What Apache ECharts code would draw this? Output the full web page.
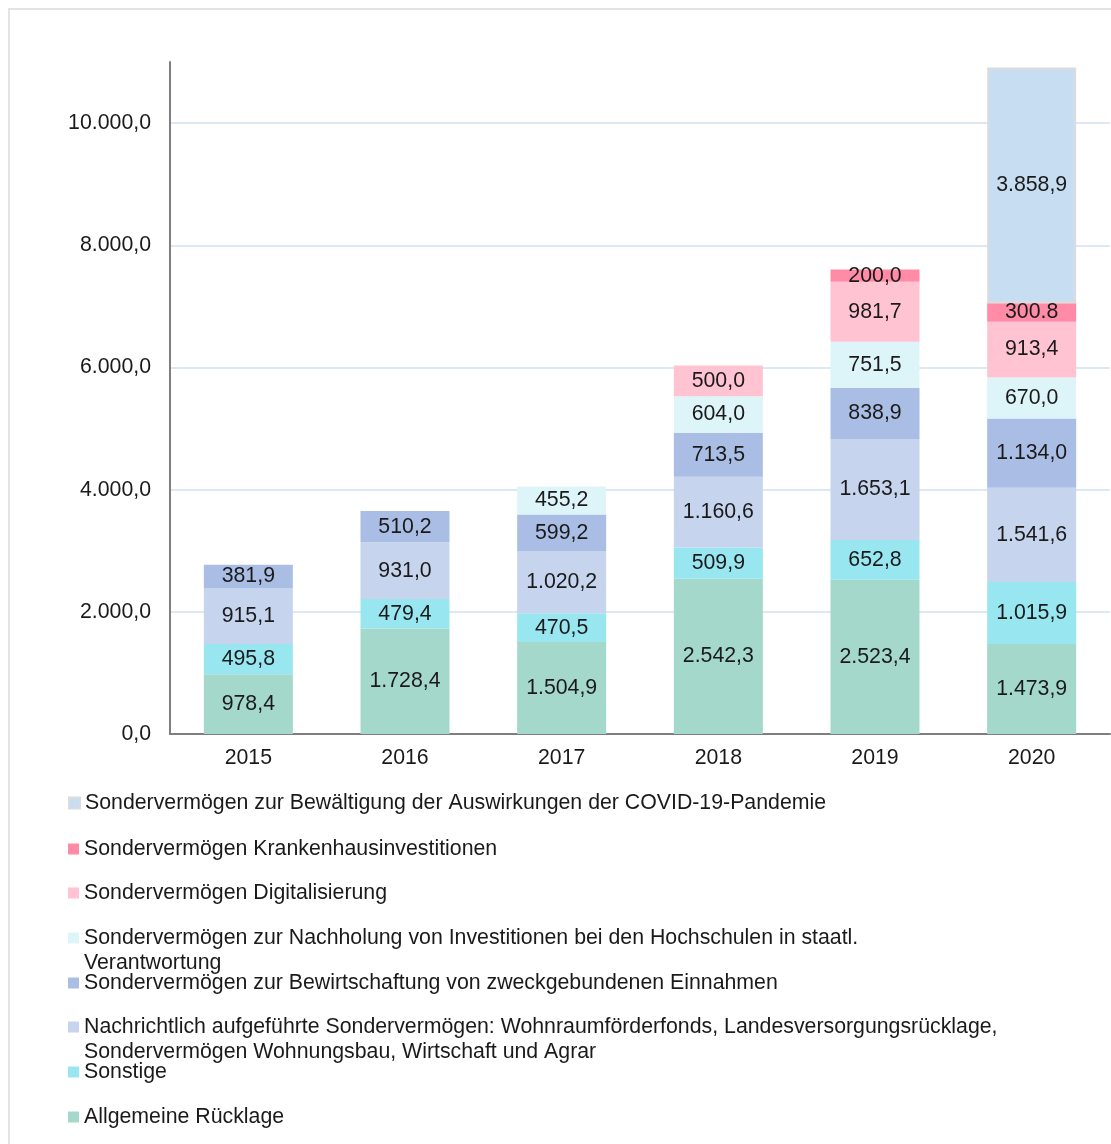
<!DOCTYPE html>
<html>
<head>
<meta charset="utf-8">
<script src="https://cdn.jsdelivr.net/npm/echarts@6/dist/echarts.min.js"></script>
<style>
  html, body { margin: 0; padding: 0; background: #fff; }
  #chart { width: 1111px; height: 1144px; }
</style>
</head>
<body>
<div id="chart"></div>
<script>
// Daten (Mio. Euro)
var years = ['2015', '2016', '2017', '2018', '2019', '2020'];
var yTicks = [0, 2000, 4000, 6000, 8000, 10000];

var allgemeineRuecklage = [978.4, 1728.4, 1504.9, 2542.3, 2523.4, 1473.9];
var sonstige = [495.8, 479.4, 470.5, 509.9, 652.8, 1015.9];
var nachrichtlich = [915.1, 931.0, 1020.2, 1160.6, 1653.1, 1541.6];
var bewirtschaftung = [381.9, 510.2, 599.2, 713.5, 838.9, 1134.0];
var nachholung = [null, null, 455.2, 604.0, 751.5, 670.0];
var digitalisierung = [null, null, null, 500.0, 981.7, 913.4];
var krankenhaus = [null, null, null, null, 200.0, 300.8];
var covid = [null, null, null, null, null, 3858.9];

var names = {
    allg: 'Allgemeine Rücklage',
    sonst: 'Sonstige',
    nachr: 'Nachrichtlich aufgeführte Sondervermögen: Wohnraumförderfonds, Landesversorgungsrücklage,',
    bew: 'Sondervermögen zur Bewirtschaftung von zweckgebundenen Einnahmen',
    nachh: 'Sondervermögen zur Nachholung von Investitionen bei den Hochschulen in staatl.',
    digi: 'Sondervermögen Digitalisierung',
    kh: 'Sondervermögen Krankenhausinvestitionen',
    covid: 'Sondervermögen zur Bewältigung der Auswirkungen der COVID-19-Pandemie'
};

var fontFamily = '"Liberation Sans", Arial, sans-serif';
var fs = 21.3;

// deutsche Zahlendarstellung mit einer Nachkommastelle
function fmt(v) {
    var s = Number(v).toFixed(1);
    var parts = s.split('.');
    var intPart = parts[0].replace(/\B(?=(\d{3})+(?!\d))/g, '.');
    return intPart + ',' + parts[1];
}

function labelFmt(p) {
    // im Original steht hier ein Punkt
    if (p.seriesName === names.kh && p.dataIndex === 5) return '300.8';
    return fmt(p.value);
}

function bar(name, data, color, extra) {
    var s = {
        name: name,
        type: 'bar',
        stack: 'total',
        barWidth: 89,
        data: data,
        itemStyle: { color: color },
        label: {
            show: true,
            position: 'inside',
            formatter: labelFmt,
            color: '#1a1a1a',
            fontSize: fs,
            fontFamily: fontFamily
        },
        emphasis: { disabled: true }
    };
    if (extra) s.itemStyle = Object.assign(s.itemStyle, extra);
    return s;
}

function legendAt(name, centerY) {
    return {
        data: [name],
        left: 68,
        top: centerY - 12,
        padding: 0,
        orient: 'vertical',
        icon: 'rect',
        itemWidth: 11,
        itemHeight: 11,
        itemGap: 0,
        textStyle: {
            color: '#1a1a1a',
            fontSize: fs,
            fontFamily: fontFamily,
            lineHeight: 24
        }
    };
}

var myChart = echarts.init(document.getElementById('chart'));

var option = {
    backgroundColor: '#fff',
    animation: false,
    grid: { left: 170, right: 1, top: 62, bottom: 410 },
    xAxis: {
        type: 'category',
        data: years,
        axisLine: { lineStyle: { color: '#7f7f7f', width: 2 } },
        axisTick: { show: false },
        axisLabel: { color: '#1a1a1a', fontSize: fs, fontFamily: fontFamily, margin: 14 }
    },
    yAxis: {
        type: 'value',
        min: 0,
        max: 11000,
        interval: 2000,
        axisLine: { show: true, lineStyle: { color: '#7f7f7f', width: 2 } },
        axisTick: { show: false },
        axisLabel: {
            color: '#1a1a1a', fontSize: fs, fontFamily: fontFamily, margin: 19,
            showMaxLabel: false,
            formatter: function (v) { return yTicks.indexOf(v) >= 0 ? fmt(v) : ''; }
        },
        splitLine: {
            lineStyle: {
                color: ['#dce8f4', '#dce8f4', '#dce8f4', '#dce8f4', '#dce8f4', '#dce8f4', 'rgba(0,0,0,0)'],
                width: 2
            }
        }
    },
    legend: [
        legendAt(names.covid, 803),
        legendAt(names.kh, 849),
        legendAt(names.digi, 893),
        legendAt(names.nachh, 938),
        legendAt(names.bew, 983),
        legendAt(names.nachr, 1027),
        legendAt(names.sonst, 1072),
        legendAt(names.allg, 1117)
    ],
    graphic: [
        {
            type: 'rect',
            shape: { x: 9, y: 9, width: 1110, height: 1200 },
            style: { fill: 'none', stroke: '#e3e3e3', lineWidth: 2 },
            silent: true
        },
        {
            type: 'text',
            left: 84, top: 953,
            style: { text: 'Verantwortung', fill: '#1a1a1a', fontSize: fs, fontFamily: fontFamily }
        },
        {
            type: 'text',
            left: 84, top: 1042,
            style: { text: 'Sondervermögen Wohnungsbau, Wirtschaft und Agrar', fill: '#1a1a1a', fontSize: fs, fontFamily: fontFamily }
        }
    ],
    series: [
        bar(names.allg, allgemeineRuecklage, '#a3d8cb'),
        bar(names.sonst, sonstige, '#98e6f0'),
        bar(names.nachr, nachrichtlich, '#c6d4ee'),
        bar(names.bew, bewirtschaftung, '#aabee5'),
        bar(names.nachh, nachholung, '#ddf5f9'),
        bar(names.digi, digitalisierung, '#ffc3d2'),
        bar(names.kh, krankenhaus, '#ff8ba7'),
        bar(names.covid, covid, '#c7ddf1', { borderColor: '#dcdcdc', borderWidth: 2 })
    ]
};

myChart.setOption(option);
</script>
</body>
</html>
